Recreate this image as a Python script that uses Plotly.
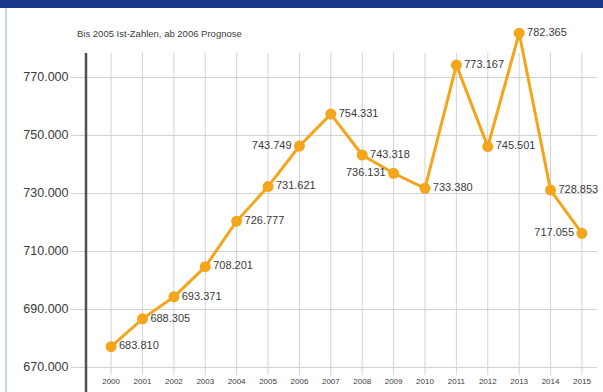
import plotly.graph_objects as go

years = list(range(2000, 2016))
values = [677.0, 686.6, 694.2, 704.6, 720.3, 732.2, 746.2, 757.2, 743.1, 736.8,
          731.6, 774.1, 746.0, 785.1, 731.0, 716.1]
labels = ["683.810", "688.305", "693.371", "708.201", "726.777", "731.621", "743.749",
          "754.331", "743.318", "736.131", "733.380", "773.167", "745.501", "782.365",
          "728.853", "717.055"]
label_pos = ["middle right"] * 16
label_pos[6] = "middle left"
label_pos[9] = "middle left"
label_pos[15] = "middle left"
ytick_vals = [670, 690, 710, 730, 750, 770]
ytick_text = ["670.000", "690.000", "710.000", "730.000", "750.000", "770.000"]
subtitle = "Bis 2005 Ist-Zahlen, ab 2006 Prognose"

W, H = 603, 392
ML, MR, MT, MB = 86, 6, 25, 17
PW, PH = W - ML - MR, H - MT - MB


def px_x(p):
    return (p - ML) / PW


def px_y(p):
    return (H - MB - p) / PH


ORANGE = "#f3a51c"
GRID = "#d2d2d2"
TXT = "#3a3a3a"

fig = go.Figure()
fig.add_trace(go.Scatter(
    x=years, y=values, mode="lines+markers+text",
    line=dict(color=ORANGE, width=3),
    marker=dict(color=ORANGE, size=11),
    text=labels, textposition=label_pos,
    textfont=dict(family="Liberation Sans", size=11, color=TXT),
    cliponaxis=False, hoverinfo="skip",
))

shapes = []
for yr in years:
    shapes.append(dict(type="line", xref="x", yref="y", x0=yr, x1=yr,
                       y0=667.24, y1=778.3, line=dict(color=GRID, width=1),
                       layer="below"))
# y axis line
shapes.append(dict(type="line", xref="paper", yref="paper", x0=0, x1=0,
                   y0=px_y(392), y1=px_y(53), line=dict(color="#505050", width=2.5)))
# header bar
shapes.append(dict(type="rect", xref="paper", yref="paper", x0=px_x(0), x1=px_x(603),
                   y0=px_y(8), y1=px_y(0), fillcolor="#17388a", line=dict(width=0)))
# left border
shapes.append(dict(type="line", xref="paper", yref="paper", x0=px_x(6), x1=px_x(6),
                   y0=px_y(392), y1=px_y(8), line=dict(color="#8fb0dc", width=1)))

fig.update_layout(
    width=W, height=H,
    margin=dict(l=ML, r=MR, t=MT, b=MB),
    paper_bgcolor="white", plot_bgcolor="white",
    showlegend=False,
    shapes=shapes,
    xaxis=dict(range=[1999.2, 2015.48], tickvals=years, ticktext=[str(y) for y in years],
               showgrid=False, zeroline=False, showline=False, ticks="",
               tickfont=dict(family="Liberation Sans", size=8, color=TXT)),
    yaxis=dict(range=[667.24, 787.93], tickvals=ytick_vals, ticktext=ytick_text,
               showgrid=True, gridcolor=GRID, gridwidth=1, zeroline=False, showline=False,
               ticks="outside", ticklen=14, tickcolor=GRID,
               tickfont=dict(family="Liberation Sans", size=12.5, color=TXT)),
    annotations=[dict(text=subtitle, xref="paper", yref="paper", x=px_x(75), y=px_y(33),
                      xanchor="left", yanchor="middle", showarrow=False,
                      font=dict(family="Liberation Sans", size=9.5, color=TXT))],
)

fig.write_html("out.html")
